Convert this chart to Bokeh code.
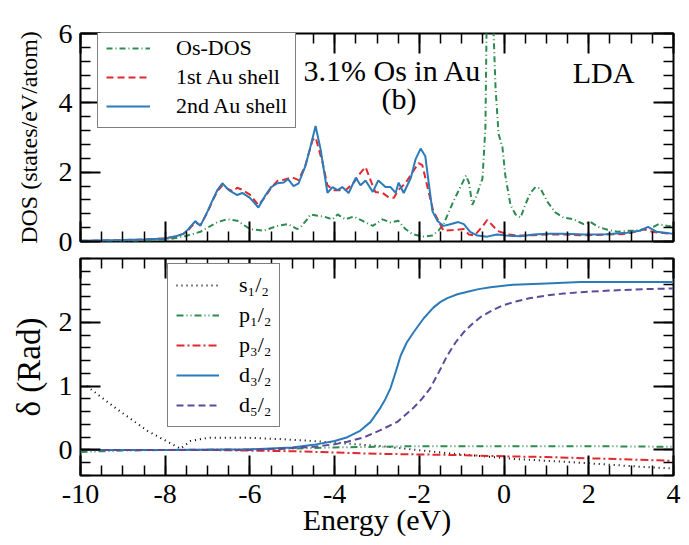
import numpy as np
from bokeh.plotting import figure
from bokeh.models import Range1d, LinearAxis, FixedTicker, Legend, LegendItem, Label
from bokeh.layouts import column
from bokeh.embed import file_html
from bokeh.resources import INLINE

FONT = "Liberation Serif"

# ---------------- data: top panel (DOS) ----------------
os_e = [-10, -9, -8.5, -8, -7.57, -7.17, -6.77, -6.53, -6.3, -6.0, -5.68, -5.35, -5.1, -4.88, -4.8, -4.65,
        -4.57, -4.4, -4.26, -4.05, -3.93, -3.75, -3.55, -3.35, -3.1, -2.87, -2.68, -2.5, -2.33, -2.17, -1.93,
        -1.7, -1.55, -1.43, -1.2, -0.98, -0.9, -0.83, -0.75, -0.67, -0.51, -0.44, -0.41, -0.33, -0.25, -0.2,
        -0.13, -0.04, 0.03, 0.15, 0.27, 0.39, 0.5, 0.62, 0.74, 0.86, 1.02, 1.21, 1.4, 1.64, 1.88, 2.04, 2.23,
        2.44, 2.68, 2.91, 3.07, 3.22, 3.38, 3.53, 3.65, 3.86, 4.0]
os_dos = [0.0, 0.01, 0.02, 0.05, 0.14, 0.28, 0.56, 0.64, 0.6, 0.36, 0.31, 0.45, 0.5, 0.36, 0.42, 0.64,
          0.78, 0.74, 0.72, 0.64, 0.78, 0.64, 0.72, 0.6, 0.45, 0.64, 0.55, 0.6, 0.36, 0.22, 0.14,
          0.17, 0.31, 0.5, 1.15, 1.7, 1.9, 1.7, 1.06, 1.26, 1.81, 3.3, 6.5, 6.9, 6.1, 4.4,
          3.1, 2.73, 1.9, 1.06, 0.78, 0.69, 1.06, 1.4, 1.57, 1.53, 1.15, 0.84, 0.69, 0.64, 0.5, 0.56, 0.42,
          0.34, 0.28, 0.31, 0.31, 0.34, 0.36, 0.42, 0.5, 0.45, 0.42]

au1_e = [-10, -9, -8.5, -8, -7.75, -7.57, -7.45, -7.29, -7.17, -7.0, -6.88, -6.77, -6.65, -6.5, -6.4, -6.3,
         -6.2, -6.0, -5.8, -5.63, -5.5, -5.35, -5.2, -5.0, -4.85, -4.69, -4.52, -4.45, -4.29, -4.17, -4.03,
         -3.88, -3.72, -3.55, -3.39, -3.27, -3.15, -3.04, -2.87, -2.73, -2.6, -2.5, -2.33, -2.17, -2.02, -1.93,
         -1.8, -1.67, -1.55, -1.43, -1.2, -0.95, -0.83, -0.7, -0.5, -0.4, -0.3, -0.15, 0.1, 0.4, 0.7, 1.0,
         1.4, 1.9, 2.4, 2.9, 3.3, 3.5, 3.7, 4.0]
au1_dos = [0.02, 0.04, 0.06, 0.09, 0.15, 0.22, 0.34, 0.55, 0.47, 0.85, 1.18, 1.45, 1.62, 1.5, 1.45, 1.55,
           1.5, 1.35, 1.05, 1.3, 1.55, 1.75, 1.78, 1.85, 1.77, 2.2, 2.93, 3.0, 2.3, 1.62, 1.48,
           1.48, 1.5, 1.7, 1.98, 2.15, 1.76, 1.43, 1.4, 1.28, 1.26, 1.48, 1.68, 1.98, 2.26, 2.2,
           1.53, 0.87, 0.6, 0.31, 0.33, 0.36, 0.2, 0.17, 0.45, 0.62, 0.5, 0.3, 0.2, 0.17, 0.18, 0.2,
           0.2, 0.18, 0.2, 0.22, 0.35, 0.28, 0.25, 0.22]

au2_e = [-10, -9, -8.5, -8, -7.75, -7.57, -7.45, -7.29, -7.17, -7.0, -6.88, -6.77, -6.65, -6.5, -6.3, -6.18,
         -6.0, -5.8, -5.63, -5.5, -5.35, -5.2, -5.1, -4.97, -4.85, -4.69, -4.57, -4.45, -4.33, -4.17, -4.05,
         -3.93, -3.82, -3.67, -3.5, -3.39, -3.27, -3.1, -2.97, -2.8, -2.68, -2.56, -2.49, -2.37, -2.2, -2.09,
         -1.97, -1.86, -1.78, -1.69, -1.57, -1.43, -1.27, -1.08, -0.95, -0.8, -0.63, -0.4, -0.17, 0.05, 0.39,
         0.7, 1.0, 1.4, 1.9, 2.4, 2.9, 3.2, 3.4, 3.6, 3.8, 4.0]
au2_dos = [0.02, 0.04, 0.06, 0.09, 0.15, 0.22, 0.36, 0.59, 0.45, 0.87, 1.2, 1.48, 1.68, 1.48, 1.34, 1.4,
           1.26, 0.98, 1.34, 1.57, 1.68, 1.7, 1.8, 1.6, 1.68, 2.18, 2.74, 3.33, 2.65, 1.4, 1.57,
           1.48, 1.57, 1.4, 1.84, 1.62, 1.76, 1.43, 1.76, 1.57, 1.57, 1.4, 1.7, 1.4, 1.84, 2.37,
           2.68, 2.46, 1.7, 0.87, 0.59, 0.45, 0.5, 0.56, 0.5, 0.28, 0.17, 0.14, 0.2, 0.17, 0.15,
           0.2, 0.22, 0.22, 0.2, 0.21, 0.25, 0.31, 0.42, 0.28, 0.25, 0.22]

# ---------------- data: bottom panel (phase shifts) ----------------
s12_e = [-9.85, -9.2, -8.42, -7.64, -7.4, -7.0, -6.0, -5.28, -4.5, -3.7, -2.9, -1.34, 0.23, 1.8, 3.38, 4.0]
s12_d = [1.0, 0.67, 0.3, 0.02, 0.14, 0.19, 0.19, 0.17, 0.14, 0.1, 0.06, -0.05, -0.14, -0.2, -0.27, -0.29]

p12_e = [-10, -9, -8, -6, -5, -4, -3, -2, 0, 2, 4]
p12_d = [-0.03, -0.01, 0.0, 0.01, 0.02, 0.04, 0.05, 0.06, 0.06, 0.06, 0.05]

p32_e = [-10, -8, -7, -6, -5, -4, -3, -2, -1, 0, 1, 2, 3, 4]
p32_d = [0, 0, 0, -0.01, -0.02, -0.04, -0.06, -0.07, -0.08, -0.1, -0.11, -0.13, -0.15, -0.17]

d32_e = [-10, -8, -6, -5, -4.5, -4, -3.7, -3.4, -3.15, -2.92, -2.8, -2.68, -2.56, -2.44, -2.3, -2.14,
         -2.0, -1.9, -1.67, -1.5, -1.34, -1.1, -0.86, -0.6, -0.32, 0.22, 1.0, 1.8, 4.0]
d32_d = [0, 0, 0.01, 0.04, 0.08, 0.14, 0.2, 0.3, 0.44, 0.66, 0.8, 0.97, 1.22, 1.48, 1.68, 1.84,
         1.97, 2.06, 2.23, 2.32, 2.38, 2.44, 2.48, 2.52, 2.55, 2.59, 2.61, 2.63, 2.63]

d52_e = [-10, -8, -6, -5, -4.5, -4, -3.7, -3.3, -2.92, -2.52, -2.14, -1.94, -1.74, -1.54, -1.34, -1.15,
         -0.96, -0.76, -0.56, -0.3, -0.01, 0.3, 0.62, 1.0, 1.4, 2.0, 2.58, 3.3, 4.0]
d52_d = [0, 0, 0.0, 0.03, 0.05, 0.09, 0.13, 0.2, 0.31, 0.44, 0.66, 0.8, 0.97, 1.22, 1.48, 1.68,
         1.84, 1.97, 2.08, 2.18, 2.27, 2.33, 2.38, 2.42, 2.45, 2.48, 2.5, 2.52, 2.53]

x_major = [-10, -8, -6, -4, -2, 0, 2, 4]
x_labels = {-10: "-10", -8: "-8", -6: "-6", -4: "-4", -2: "-2", 0: "0", 2: "2", 4: "4"}
top_y_major = [0, 2, 4, 6]
bot_y_major = [0, 1, 2]

GREEN = "#2e8b50"
RED = "#e0282e"
BLUE = "#2b7bb9"
PURPLE = "#5d4a9a"

x_minor = list(np.round(np.arange(-10, 4.001, 0.5), 3))
top_minor = list(np.round(np.arange(0, 6.001, 0.4), 3))
bot_minor = list(np.round(np.arange(-0.4, 3.001, 0.2), 3))


def style_axis(ax, ticks, minor, show_labels, label_size="28px"):
    ax.ticker = FixedTicker(ticks=ticks, minor_ticks=minor)
    ax.major_tick_in = 20
    ax.major_tick_out = 0
    ax.minor_tick_in = 10
    ax.minor_tick_out = 0
    ax.major_tick_line_width = 2
    ax.minor_tick_line_width = 1.5
    ax.major_tick_line_color = "black"
    ax.minor_tick_line_color = "black"
    ax.axis_line_color = None
    ax.major_label_text_font = FONT
    ax.axis_label_text_font = FONT
    ax.major_label_text_color = "black"
    ax.axis_label_text_font_style = "normal"
    ax.axis_label_text_color = "black"
    if show_labels:
        ax.major_label_text_font_size = label_size
        ax.major_label_standoff = 8
    else:
        ax.major_label_overrides = {t: "" for t in ticks}
        ax.major_label_text_font_size = "1px"
        ax.major_label_standoff = 0


def make_fig(height, ymin, ymax, btop, bbot):
    p = figure(width=689, height=height, output_backend="svg", toolbar_location=None,
               x_range=Range1d(-10, 4), y_range=Range1d(ymin, ymax),
               min_border_left=80, min_border_right=16, min_border_top=btop, min_border_bottom=bbot)
    p.outline_line_color = "black"
    p.outline_line_width = 2
    p.xgrid.visible = False
    p.ygrid.visible = False
    p.background_fill_color = "white"
    p.border_fill_color = "white"
    return p


# ---------------- top panel ----------------
p1 = make_fig(257, 0, 6, 33, 16)
r_os = p1.line(os_e, os_dos, line_color=GREEN, line_width=2, line_dash="6 3 1 3")
r_au1 = p1.line(au1_e, au1_dos, line_color=RED, line_width=2, line_dash="7 4")
r_au2 = p1.line(au2_e, au2_dos, line_color=BLUE, line_width=2)

style_axis(p1.xaxis[0], x_major, x_minor, False)
style_axis(p1.yaxis[0], top_y_major, top_minor, True)
p1.yaxis[0].axis_label = "DOS (states/eV/atom)"
p1.yaxis[0].axis_label_text_font_size = "24px"
p1.yaxis[0].axis_label_standoff = 14
ax_t = LinearAxis()
style_axis(ax_t, x_major, x_minor, False)
p1.add_layout(ax_t, "above")
ax_r = LinearAxis()
style_axis(ax_r, top_y_major, top_minor, False)
p1.add_layout(ax_r, "right")

leg1 = Legend(items=[LegendItem(label="Os-DOS", renderers=[r_os]),
                     LegendItem(label="1st Au shell", renderers=[r_au1]),
                     LegendItem(label="2nd Au shell", renderers=[r_au2])],
              location=(17, 113), margin=0, padding=8, spacing=3,
              glyph_width=44, glyph_height=24, label_height=24, label_standoff=26,
              label_text_font=FONT, label_text_font_size="22px", label_text_color="black",
              border_line_color="black", border_line_width=1.5,
              background_fill_color="white", background_fill_alpha=1.0)
p1.add_layout(leg1)

for txt, xx, yy in [("3.1% Os in Au", -2.63, 4.94), ("(b)", -2.48, 4.13), ("LDA", 2.35, 4.88)]:
    p1.add_layout(Label(x=xx, y=yy, text=txt, text_align="center", text_baseline="middle",
                        text_font=FONT, text_font_size="30px", text_color="black"))

# ---------------- bottom panel ----------------
p2 = make_fig(288, -0.4, 3.0, 1, 70)
r_s12 = p2.line(s12_e, s12_d, line_color="black", line_width=2, line_dash="1 4")
r_p12 = p2.line(p12_e, p12_d, line_color=GREEN, line_width=2, line_dash="7 3 1 3 1 3")
r_p32 = p2.line(p32_e, p32_d, line_color=RED, line_width=2, line_dash="8 3 2 3")
r_d32 = p2.line(d32_e, d32_d, line_color=BLUE, line_width=2)
r_d52 = p2.line(d52_e, d52_d, line_color=PURPLE, line_width=2, line_dash="7 4")

style_axis(p2.xaxis[0], x_major, x_minor, True)
p2.xaxis[0].major_label_overrides = x_labels
p2.xaxis[0].major_label_standoff = 9
p2.xaxis[0].axis_label = "Energy (eV)"
p2.xaxis[0].axis_label_text_font_size = "30px"
p2.xaxis[0].axis_label_standoff = -3
style_axis(p2.yaxis[0], bot_y_major, bot_minor, True)
p2.yaxis[0].axis_label = "δ (Rad)"
p2.yaxis[0].axis_label_text_font_size = "33px"
p2.yaxis[0].axis_label_standoff = 9
ax_t2 = LinearAxis()
style_axis(ax_t2, x_major, x_minor, False)
p2.add_layout(ax_t2, "above")
ax_r2 = LinearAxis()
style_axis(ax_r2, bot_y_major, bot_minor, False)
p2.add_layout(ax_r2, "right")

leg2 = Legend(items=[LegendItem(label="s₁/₂", renderers=[r_s12]),
                     LegendItem(label="p₁/₂", renderers=[r_p12]),
                     LegendItem(label="p₃/₂", renderers=[r_p32]),
                     LegendItem(label="d₃/₂", renderers=[r_d32]),
                     LegendItem(label="d₅/₂", renderers=[r_d52])],
              location=(87, 48), margin=0, padding=8, spacing=4,
              glyph_width=43, glyph_height=26, label_height=26, label_standoff=20,
              label_text_font=FONT, label_text_font_size="22px", label_text_color="black",
              border_line_color="black", border_line_width=1.5,
              background_fill_color="white", background_fill_alpha=1.0)
p2.add_layout(leg2)

layout = column(p1, p2, spacing=0)
open("out.html", "w").write(file_html(layout, INLINE))
